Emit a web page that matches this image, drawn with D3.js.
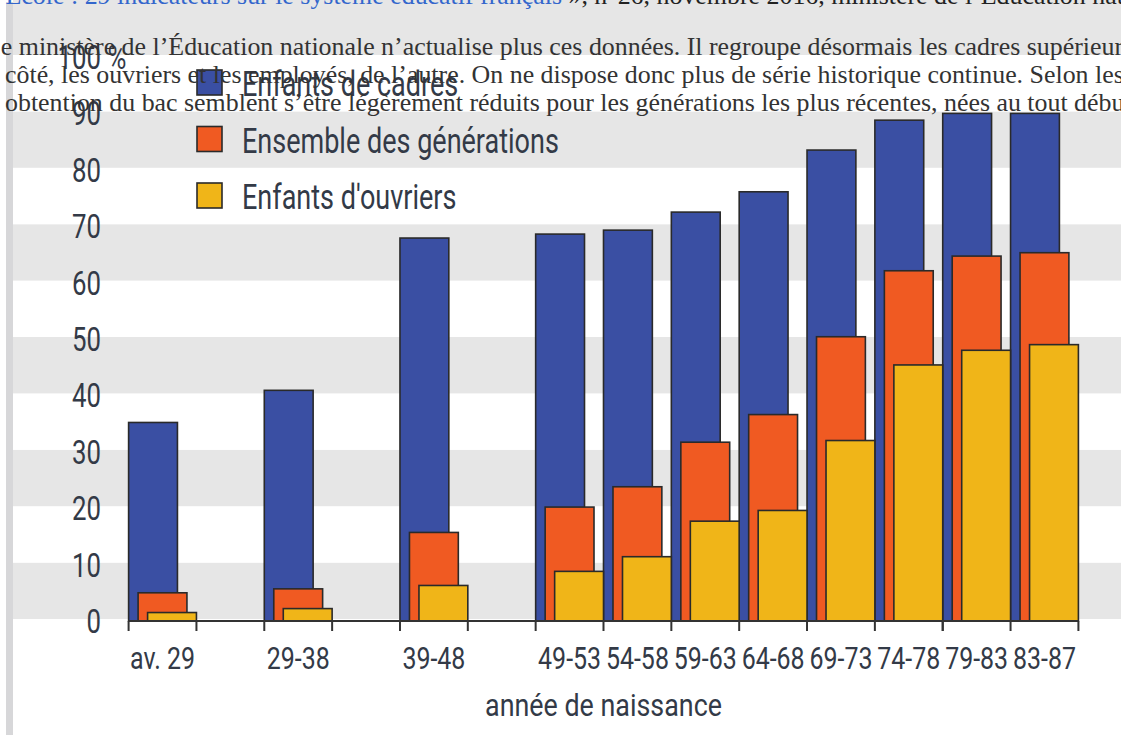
<!DOCTYPE html>
<html>
<head>
<meta charset="utf-8">
<script src="https://cdn.jsdelivr.net/npm/d3@7"></script>
<style>
  body { margin: 0; background: #fff; overflow: hidden; }
  svg { display: block; }
</style>
</head>
<body>
<svg id="chart" width="1121" height="735"></svg>
<script>
// Data (taux d'obtention du bac, %)
const categories = ["av. 29", "29-38", "39-48", "49-53", "54-58", "59-63", "64-68", "69-73", "74-78", "79-83", "83-87"];
const seriesNames = ["Enfants de cadres", "Ensemble des générations", "Enfants d'ouvriers"];
const cadres = [35.2, 40.9, 67.9, 68.6, 69.3, 72.5, 76.1, 83.5, 88.8, 90, 90];
const ensemble = [5.0, 5.7, 15.7, 20.2, 23.8, 31.7, 36.6, 50.4, 62.1, 64.7, 65.3];
const ouvriers = [1.5, 2.2, 6.3, 8.8, 11.4, 17.7, 19.6, 32.0, 45.4, 48.0, 49.0];
const yTicks = [0, 10, 20, 30, 40, 50, 60, 70, 80, 90, 100];
const xTitle = "année de naissance";

// page text lying over the picture
const topLink = "L’état de l’École : 29 indicateurs sur le système éducatif français";
const topRest = " », n°26, novembre 2016, ministère de l’Éducation nationale";
const paragraph = [
  "Le ministère de l’Éducation nationale n’actualise plus ces données. Il regroupe désormais les cadres supérieurs",
  "côté, les ouvriers et les employés, de l’autre. On ne dispose donc plus de série historique continue. Selon les",
  "obtention du bac semblent s’être légèrement réduits pour les générations les plus récentes, nées au tout début"
];

const colors = ["#3a4fa3", "#f05a22", "#f0b518"];
const values = [cadres, ensemble, ouvriers];
const labelFont = "Roboto, 'Liberation Sans', sans-serif";
const textCol = "#333a47";

const width = 1121, height = 735;
const svg = d3.select("#chart");

// the chart font is a narrow one: squeeze Roboto horizontally to the widths seen
function squeeze(sample, size, target) {
  const t = svg.append("text").attr("font-family", labelFont).attr("font-size", size).text(sample);
  const w = t.node().getComputedTextLength();
  t.remove();
  return target / w;
}
const sqY = squeeze("80", 33, 29);
const sqX = squeeze("49-53", 31, 63);
const sqTitle = squeeze(xTitle, 31, 237);
const sqLegend = squeeze("Ensemble des générations", 35, 317);

// group slots: the first three periods are followed by an empty slot
const slots = [];
categories.forEach((c, i) => {
  slots.push(c);
  if (i < 3) slots.push("gap" + i);
});

const x = d3.scaleBand().domain(slots).range([128.6, 1078.4]).padding(0);
const y = d3.scaleLinear().domain([0, 100]).range([621, 57]);
const barW = x.bandwidth() * 0.72;
const inner = d3.scalePoint().domain(seriesNames).range([0, x.bandwidth() - barW]);

// background stripes
const stripes = d3.range(0, 110, 10);
svg.append("g")
  .selectAll("rect")
  .data(stripes)
  .enter()
  .append("rect")
  .attr("x", 13)
  .attr("width", width - 13)
  .attr("y", (d) => y(d + 10) - 2)
  .attr("height", (d) => y(d) - y(d + 10))
  .attr("fill", (d, i) => (i % 2 === 0 ? "#e6e6e6" : "#fff"));

// left border strip
svg.append("rect").attr("x", 6).attr("y", 2).attr("width", 7).attr("height", height).attr("fill", "#d7d7d9");

// bars, one series at a time (yellow on top)
seriesNames.forEach((s, si) => {
  svg.append("g")
    .selectAll("rect")
    .data(categories)
    .enter()
    .append("rect")
    .attr("x", (d) => x(d) + inner(s))
    .attr("y", (d, i) => y(values[si][i]))
    .attr("width", barW)
    .attr("height", (d, i) => y(0) - y(values[si][i]))
    .attr("fill", colors[si])
    .attr("stroke", "#2a2a2a")
    .attr("stroke-width", 1.6);
});

// x axis: baseline and ticks on both edges of every group
const axis = svg.append("g").attr("stroke", "#333").attr("stroke-width", 2);
axis.append("line")
  .attr("x1", x.range()[0]).attr("x2", x.range()[1])
  .attr("y1", y(0)).attr("y2", y(0));
const edges = Array.from(new Set(categories.flatMap((c) => [x(c), x(c) + x.bandwidth()])));
axis.selectAll(".tick")
  .data(edges)
  .enter()
  .append("line")
  .attr("x1", (d) => d).attr("x2", (d) => d)
  .attr("y1", y(0)).attr("y2", y(0) + 10);

svg.append("g")
  .selectAll("text")
  .data(categories)
  .enter()
  .append("text")
  .attr("transform", (d) => `translate(${x(d) + x.bandwidth() / 2},669) scale(${sqX},1)`)
  .attr("text-anchor", "middle")
  .attr("font-family", labelFont)
  .attr("font-size", 31)
  .attr("fill", textCol)
  .text((d) => d);

svg.append("text")
  .attr("transform", `translate(${(x.range()[0] + x.range()[1]) / 2},716) scale(${sqTitle},1)`)
  .attr("text-anchor", "middle")
  .attr("font-family", labelFont)
  .attr("font-size", 31)
  .attr("fill", textCol)
  .text(xTitle);

// y labels
svg.append("g")
  .selectAll("text")
  .data(yTicks)
  .enter()
  .append("text")
  .attr("transform", (d) => `translate(101,${y(d) + 12}) scale(${sqY},1)`)
  .attr("text-anchor", "end")
  .attr("font-family", labelFont)
  .attr("font-size", 33)
  .attr("fill", textCol)
  .text((d) => d);
svg.append("text")
  .attr("transform", `translate(101,${y(100) + 12}) scale(${sqY},1)`)
  .attr("font-family", labelFont)
  .attr("font-size", 33)
  .attr("fill", textCol)
  .text("\u00a0%");

// legend
const legend = svg.append("g")
  .selectAll("g")
  .data(seriesNames)
  .enter()
  .append("g")
  .attr("transform", (d, i) => `translate(197,${70 + i * 56.5})`);
legend.append("rect")
  .attr("width", 25).attr("height", 25)
  .attr("fill", (d, i) => colors[i])
  .attr("stroke", "#2a2a2a").attr("stroke-width", 1.6);
legend.append("text")
  .attr("transform", `translate(45,26) scale(${sqLegend},1)`)
  .attr("font-family", labelFont)
  .attr("font-size", 35)
  .attr("fill", textCol)
  .text((d) => d);

// overlapping page text
const serif = "'Liberation Serif', 'DejaVu Serif', serif";
const serifSize = 25.9;
const refLine = svg.append("text")
  .attr("y", 4)
  .attr("font-family", serif).attr("font-size", serifSize);
const linkSpan = refLine.append("tspan").attr("fill", "#3366cc").text(topLink);
refLine.append("tspan").attr("fill", "#222").text(topRest);
// the link ends a little past the middle of the page
refLine.attr("x", 562 - linkSpan.node().getComputedTextLength());

svg.append("g")
  .selectAll("text")
  .data(paragraph)
  .enter()
  .append("text")
  .attr("x", (d, i) => (i === 0 ? -15 : 5))
  .attr("y", (d, i) => 55 + i * 28)
  .attr("font-family", serif)
  .attr("font-size", serifSize)
  .attr("fill", "#333")
  .text((d) => d);
</script>
</body>
</html>
